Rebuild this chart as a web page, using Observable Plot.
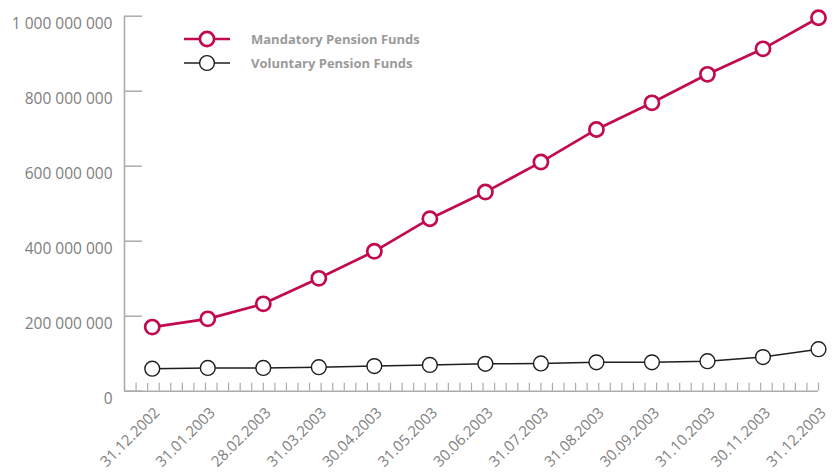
<!DOCTYPE html>
<html><head><meta charset="utf-8">
<script src="https://cdn.jsdelivr.net/npm/d3@7"></script>
<script src="https://cdn.jsdelivr.net/npm/@observablehq/plot@0.6"></script>
<style>
html,body{margin:0;padding:0;background:#fff;}
#chart{position:relative;width:832px;height:473px;overflow:hidden;}
#legend{position:absolute;left:0;top:0;width:832px;height:90px;pointer-events:none;}
</style></head><body><div id="chart"></div>
<script>
const dates = ["31.12.2002","31.01.2003","28.02.2003","31.03.2003","30.04.2003","31.05.2003","30.06.2003","31.07.2003","31.08.2003","30.09.2003","31.10.2003","30.11.2003","31.12.2003"];
const mandatory = [171e6,193e6,233e6,301e6,373e6,460e6,531e6,611e6,698e6,769e6,845e6,913e6,996e6];
const voluntary = [60e6,62e6,62e6,64e6,67e6,70e6,73e6,74e6,77e6,77e6,80e6,91e6,112e6];
const yTicks = [0,2e8,4e8,6e8,8e8,1e9];
const seriesNames = ["Mandatory Pension Funds","Voluntary Pension Funds"];
const seriesColors = ["#c10a50","#1e1e1e"];

const rows = dates.map((d,i)=>({i, date:d, mandatory:mandatory[i], voluntary:voluntary[i]}));
const minorTicks = d3.range(1,61).map(k => -0.5 + k*12.5/60);
const fmt = d3.formatLocale({decimal:".", thousands:" ", grouping:[3], currency:["",""]}).format(",");
const axisColor = "#ababab";
const textColor = "#808080";

const plot = Plot.plot({
  width: 832, height: 473,
  marginLeft: 124, marginRight: 14, marginTop: 15.7, marginBottom: 82.3,
  x: {domain: [-0.5, 12], axis: null},
  y: {domain: [0, 1e9], axis: null},
  style: {fontFamily: "'Open Sans', sans-serif", background: "#fff"},
  marks: [
    Plot.tickY(yTicks, {y: d=>d, stroke: axisColor, strokeWidth: 1.5, insetRight: 676}),
    Plot.tickX(minorTicks, {x: d=>d, stroke: axisColor, strokeWidth: 1.2, insetTop: 367}),
    Plot.ruleX([-0.5], {stroke: axisColor, strokeWidth: 1.6}),
    Plot.ruleY([0], {stroke: axisColor, strokeWidth: 1.6}),
    Plot.text(yTicks, {y: d=>d, frameAnchor: "left", text: d=>fmt(d), textAnchor: "end", dx: -12, dy: 7.5, fontSize: 15.5, fill: textColor}),
    Plot.text(rows, {x: "i", frameAnchor: "bottom", text: "date", rotate: -45, textAnchor: "end", lineAnchor: "middle", dx: 5, dy: 19, fontSize: 15, fill: textColor}),
    Plot.line(rows, {x: "i", y: "voluntary", stroke: seriesColors[1], strokeWidth: 1.5}),
    Plot.dot(rows, {x: "i", y: "voluntary", r: 7.4, fill: "white", stroke: seriesColors[1], strokeWidth: 1.4}),
    Plot.line(rows, {x: "i", y: "mandatory", stroke: seriesColors[0], strokeWidth: 2.7}),
    Plot.dot(rows, {x: "i", y: "mandatory", r: 7.1, fill: "white", stroke: seriesColors[0], strokeWidth: 2.7})
  ]
});
const chart = document.getElementById("chart");
chart.appendChild(plot);

// legend
const ns = "http://www.w3.org/2000/svg";
const lg = document.createElementNS(ns, "svg");
lg.setAttribute("id","legend");
lg.setAttribute("width","832"); lg.setAttribute("height","90");
const legendRows = [{y:39, w:2.7, r:7.1}, {y:63, w:1.5, r:7.4}];
seriesNames.forEach((name, k) => {
  const L = legendRows[k];
  const line = document.createElementNS(ns,"line");
  line.setAttribute("x1",184); line.setAttribute("x2",230);
  line.setAttribute("y1",L.y); line.setAttribute("y2",L.y);
  line.setAttribute("stroke",seriesColors[k]); line.setAttribute("stroke-width",L.w);
  lg.appendChild(line);
  const c = document.createElementNS(ns,"circle");
  c.setAttribute("cx",207); c.setAttribute("cy",L.y); c.setAttribute("r",L.r);
  c.setAttribute("fill","white"); c.setAttribute("stroke",seriesColors[k]);
  c.setAttribute("stroke-width", k===0?2.7:1.4);
  lg.appendChild(c);
  const t = document.createElementNS(ns,"text");
  t.setAttribute("x",251); t.setAttribute("y",L.y+5);
  t.setAttribute("font-family","'Open Sans', sans-serif");
  t.setAttribute("font-weight","700"); t.setAttribute("font-size","13");
  t.setAttribute("fill","#9a9a9a");
  t.textContent = name;
  lg.appendChild(t);
});
chart.appendChild(lg);
</script>
</body></html>
